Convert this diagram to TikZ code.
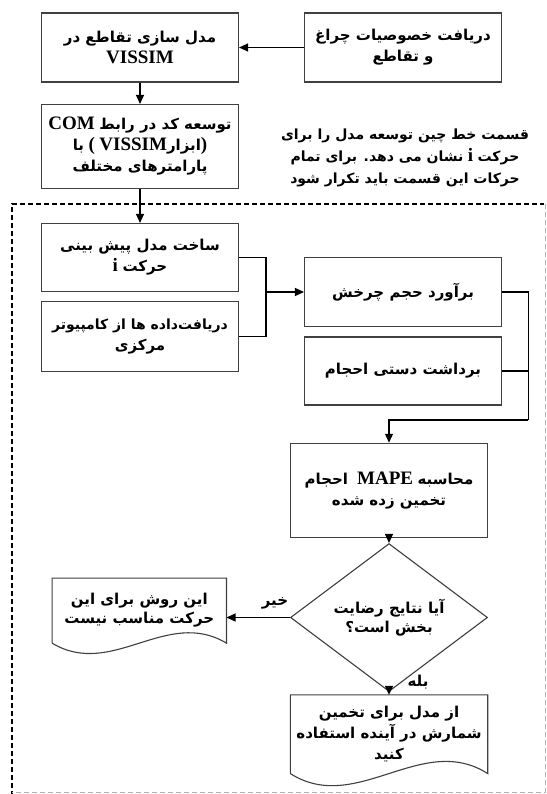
\documentclass[tikz,border=0pt]{standalone}
\usepackage{fontspec}
\usetikzlibrary{arrows.meta,shapes.geometric,calc}
\TeXXeTstate=1
\newfontfamily\arabicfont[Script=Arabic]{DejaVu Sans}
\newfontfamily\latinfont{Liberation Serif}
% Persian run, Latin run, and one right-to-left line of a label
\newcommand{\fa}[1]{{\arabicfont\bfseries\fontsize{15}{21}\selectfont #1}}
\newcommand{\fasmall}[1]{{\arabicfont\bfseries\fontsize{14}{21}\selectfont #1}}
\newcommand{\la}[1]{{\latinfont\bfseries\fontsize{19}{21}\selectfont\beginL #1\endL}}
\newcommand{\rl}[1]{\hbox{\beginR #1\endR}}
\definecolor{boxline}{HTML}{404040}
\tikzset{
  box/.style={draw=boxline, line width=1.1pt, minimum width=197pt, minimum height=69pt,
    align=center, inner sep=0pt, font=\fontsize{15}{21}\selectfont},
  conn/.style={line width=1.2pt, -{Triangle[length=9pt,width=8pt]}},
  link/.style={line width=1.2pt},
  docnode/.style={align=center, inner sep=0pt, font=\fontsize{15}{21}\selectfont},
  docline/.style={draw=boxline, line width=1.1pt},
  lbl/.style={inner sep=0pt, font=\fontsize{15}{21}\selectfont},
}
\begin{document}
\begin{tikzpicture}[x=1pt, y=-1pt]
\useasboundingbox (0,0) rectangle (546,794);
\fill[white] (0,0) rectangle (546,794);

% dashed frame around the per-movement part
\draw[black, line width=2.6pt, dash pattern=on 5pt off 3pt] (12,796) -- (12,204) -- (544,204);
\draw[black!30, line width=0.8pt, dash pattern=on 5pt off 3pt] (545,204) -- (545,792) -- (12,792);

% process boxes
\node[box] (A) at (140,47.5) {\rl{\fa{مدل سازی تقاطع در}}\\\hbox{\la{VISSIM}}};
\node[box] (B) at (403,47.5) {\rl{\fa{دریافت خصوصیات چراغ}}\\\rl{\fa{و تقاطع}}};
\node[box, minimum height=84pt] (C) at (140,146.5)
  {\rl{\fa{توسعه کد در رابط}\ \la{COM}}\\
   \rl{\la{)}\fa{ابزار}\la{VISSIM}\ \la{(}\ \fa{با}}\\
   \rl{\fa{پارامترهای مختلف}}};
\node[box, minimum height=68pt] (D) at (140,257.5)
  {\rl{\fa{ساخت مدل پیش بینی}}\\\rl{\fa{حرکت}\ \la{i}}};
\node[box, minimum height=70pt] (E) at (140,336.7)
  {\rl{\fasmall{دریافت‌داده ها از کامپیوتر}}\\\rl{\fa{مرکزی}}};
\node[box] (F) at (403,292) {\rl{\fa{برآورد حجم چرخش}}};
\node[box, minimum height=68pt] (G) at (403,371) {\rl{\fa{برداشت دستی احجام}}};
\node[box, minimum height=94pt] (H) at (389,490.3)
  {\rl{\fa{محاسبه}\ \la{MAPE}\ \ \fa{احجام}}\\\rl{\fa{تخمین زده شده}}};
\node[draw=boxline, line width=1.1pt, shape=diamond, minimum width=197pt, minimum height=101.6pt,
  inner sep=0pt, align=center, font=\fontsize{15}{19}\selectfont] (Q) at (389,617.5)
  {\rl{\fa{آیا نتایج رضایت}}\\\rl{\fa{بخش است؟}}};

% document shapes
\node[docnode, minimum width=174pt, minimum height=64.7pt, font=\fontsize{15}{19}\selectfont] (N) at (139.3,610.6)
  {\rl{\fa{این روش برای این}}\\\rl{\fa{حرکت مناسب نیست}}};
\draw[docline] (N.south west) -- (N.north west) -- (N.north east) -- (N.south east)
  .. controls +(-60,-36) and +(60,36) .. (N.south west);
\node[docnode, minimum width=197pt, minimum height=78.3pt] (Y) at (389,734.2)
  {\rl{\fa{از مدل برای تخمین}}\\\rl{\fa{شمارش در آینده استفاده}}\\\rl{\fa{کنید}}};
\draw[docline] (Y.south west) -- (Y.north west) -- (Y.north east) -- (Y.south east)
  .. controls +(-66,-42) and +(66,42) .. (Y.south west);

% note on the dashed part
\node[align=center, inner sep=0pt, font=\fontsize{15}{22}\selectfont] (note) at (405,158)
  {\rl{\fasmall{قسمت خط چین توسعه مدل را برای}}\\
   \rl{\fasmall{حرکت}\ \la{i}\ \fasmall{نشان می دهد. برای تمام}}\\
   \rl{\fasmall{حرکات این قسمت باید تکرار شود}}};

% connectors
\draw[conn] (B.west) -- (A.east);
\draw[conn] (A.south) -- (C.north);
\draw[conn] (C.south) -- (D.north);
\coordinate (jl) at (266,292);
\draw[link] (D.east) -| (jl);
\draw[link] (E.east) -| (jl);
\draw[conn] (jl) -- (F.west);
\coordinate (jr) at (528.3,420);
\draw[link] (F.east) -| (jr);
\draw[link] (G.east) -| (jr);
\draw[conn] (jr) -| (H.north);
\draw[conn] (H.south) -- (Q.north);
\draw[conn] (Q.west) -- (Q.west -| N.east);
\draw[conn] (Q.south) -- (Y.north);
\node[lbl] (no) at (275,603) {\fa{خیر}};
\node[lbl] (yes) at (418,682) {\fa{بله}};
\end{tikzpicture}
\end{document}
